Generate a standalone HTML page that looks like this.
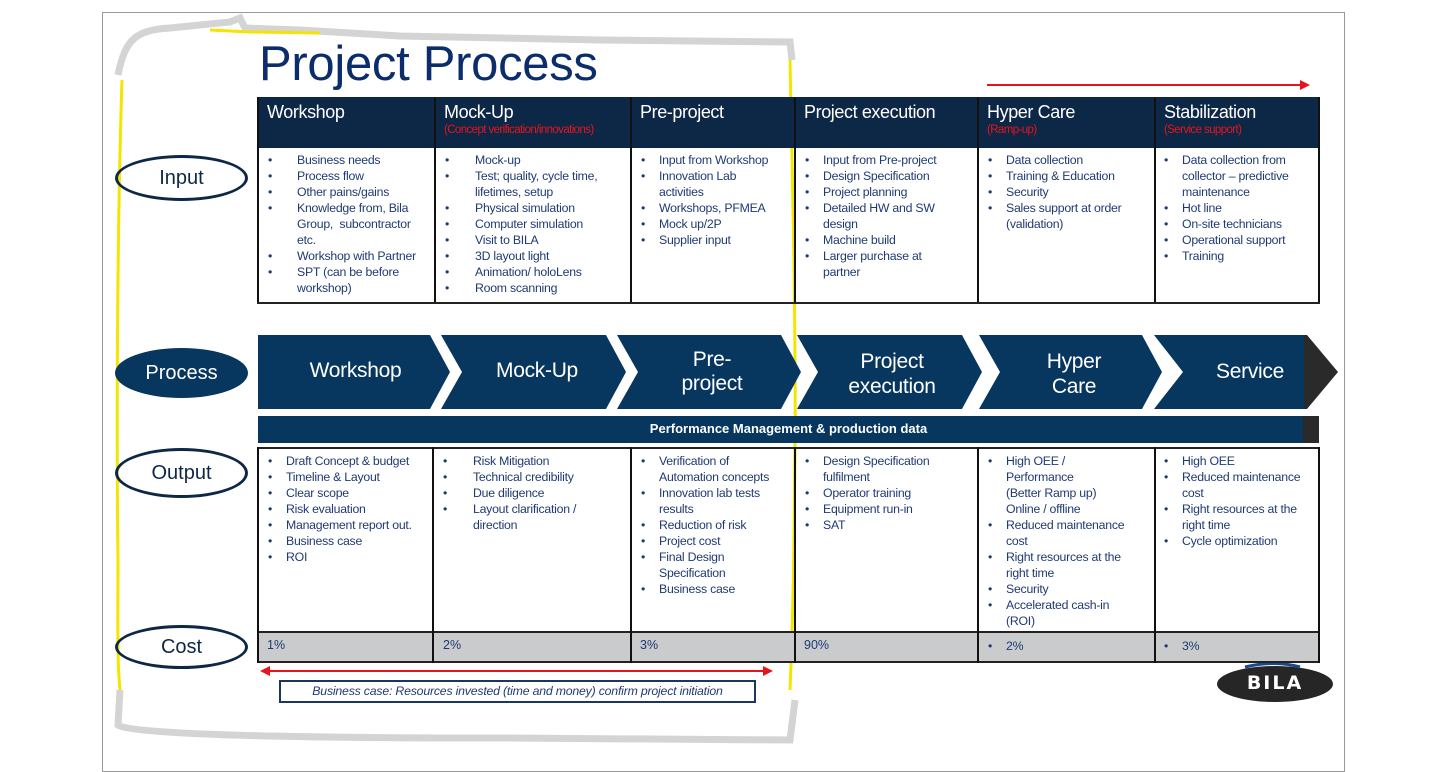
<!DOCTYPE html>
<html><head><meta charset="utf-8"><style>
*{margin:0;padding:0;box-sizing:border-box}
body{width:1440px;height:750px;background:#fff;position:relative;overflow:hidden;font-family:"Liberation Sans",Arial,sans-serif}
.a{position:absolute}
.hd{position:absolute;top:97px;height:51px;background:#0d2747;color:#fff;font-size:18px;padding:5px 0 0 9px;letter-spacing:-0.4px}
.hd small{display:block;color:#e8141b;font-size:11.5px;letter-spacing:-0.6px;margin-top:1px}
ul{position:absolute;list-style:none;color:#1f3a73;font-size:12.3px;line-height:16px;letter-spacing:-0.25px}
ul li{position:relative;padding-left:var(--p,18px)}
ul li:before{content:"•";position:absolute;left:0;color:#1f3a73}
.vl{position:absolute;width:2px;background:#111}
.hl{position:absolute;height:2px;background:#222}
.cost{position:absolute;top:645px;font-size:12.5px;color:#1f3a73}
.ell{position:absolute;border:3px solid #0d2747;border-radius:50%;text-align:center;font-size:20px;color:#0d2747}
.cv{position:absolute;text-align:center;color:#fff;font-size:21px;letter-spacing:-0.3px}
</style></head><body>
<div class="a" style="left:102px;top:12px;width:1243px;height:760px;border:1px solid #999"></div>

<svg class="a" style="left:0;top:0" width="1440" height="750">
<path d="M118 75 C125 40 135 30 170 28 L230 22 L240 18 L245 28 L300 30 L400 36 L600 40 L790 42 L792 60" fill="none" stroke="#d4d4d4" stroke-width="7"/>
<path d="M210 30 L250 32 L320 33" fill="none" stroke="#f7e300" stroke-width="3"/>
<path d="M122 80 C118 200 116 400 118 560 C118 620 117 660 120 690" fill="none" stroke="#f2e600" stroke-width="3"/>
<path d="M120 690 L118 725 C130 735 300 738 500 738 L790 740 L795 700" fill="none" stroke="#d4d4d4" stroke-width="7"/>
<path d="M790 60 C793 200 796 350 795 450 C794 550 793 620 790 690" fill="none" stroke="#f2e600" stroke-width="3"/>
<line x1="987" y1="85" x2="1302" y2="85" stroke="#e8141b" stroke-width="2"/>
<polygon points="1310,85 1300,80 1300,90" fill="#e8141b"/>
<g fill="#07365f">
<polygon points="258,335 430,335 450,372 430,409 258,409"/>
<polygon points="441,335 606,335 626,372 606,409 441,409 462,372"/>
<polygon points="617,335 781,335 801,372 781,409 617,409 638,372"/>
<polygon points="797,335 962,335 982,372 962,409 797,409 818,372"/>
<polygon points="979,335 1142,335 1162,372 1142,409 979,409 1000,372"/>
<polygon points="1154,335 1305,335 1305,409 1154,409 1183,372"/>
</g>
<polygon points="1304,335 1307,335 1338,372 1307,409 1304,409" fill="#2a2a2a"/>
<line x1="268" y1="671" x2="764" y2="671" stroke="#e8141b" stroke-width="2"/>
<polygon points="260,671 270,666 270,676" fill="#e8141b"/>
<polygon points="773,671 763,666 763,676" fill="#e8141b"/>
<ellipse cx="1275" cy="684" rx="58" ry="18" fill="#262626"/>
<path d="M1245 667 Q1275 660 1300 667" stroke="#1a4a8a" stroke-width="3" fill="none"/>
</svg>

<div class="a" style="left:259px;top:36px;font-size:49px;color:#0c2d6b;letter-spacing:-0.3px">Project Process</div>

<div class="hd" style="left:258px;width:177px">Workshop</div>
<div class="hd" style="left:435px;width:196px">Mock-Up<small>(Concept verification/innovations)</small></div>
<div class="hd" style="left:631px;width:164px">Pre-project</div>
<div class="hd" style="left:795px;width:183px">Project execution</div>
<div class="hd" style="left:978px;width:177px">Hyper Care<small>(Ramp-up)</small></div>
<div class="hd" style="left:1155px;width:164px">Stabilization<small>(Service support)</small></div>

<div class="vl" style="left:257px;top:97px;height:207px"></div>
<div class="vl" style="left:434px;top:97px;height:207px"></div>
<div class="vl" style="left:630px;top:97px;height:207px"></div>
<div class="vl" style="left:794px;top:97px;height:207px"></div>
<div class="vl" style="left:977px;top:97px;height:207px"></div>
<div class="vl" style="left:1154px;top:97px;height:207px"></div>
<div class="vl" style="left:1318px;top:97px;height:207px"></div>
<div class="hl" style="left:257px;top:302px;width:1063px"></div>

<ul style="left:268px;top:152px;width:165px;--p:29px">
<li>Business needs</li><li>Process flow</li><li>Other pains/gains</li><li>Knowledge from, Bila<br>Group,&nbsp; subcontractor<br>etc.</li><li>Workshop with Partner</li><li>SPT (can be before<br>workshop)</li></ul>
<ul style="left:445px;top:152px;width:185px;--p:30px">
<li>Mock-up</li><li>Test; quality, cycle time,<br>lifetimes, setup</li><li>Physical simulation</li><li>Computer simulation</li><li>Visit to BILA</li><li>3D layout light</li><li>Animation/ holoLens</li><li>Room scanning</li></ul>
<ul style="left:641px;top:152px;width:153px">
<li>Input from Workshop</li><li>Innovation Lab<br>activities</li><li>Workshops, PFMEA</li><li>Mock up/2P</li><li>Supplier input</li></ul>
<ul style="left:805px;top:152px;width:170px">
<li>Input from Pre-project</li><li>Design Specification</li><li>Project planning</li><li>Detailed HW and SW<br>design</li><li>Machine build</li><li>Larger purchase at<br>partner</li></ul>
<ul style="left:988px;top:152px;width:165px">
<li>Data collection</li><li>Training &amp; Education</li><li>Security</li><li>Sales support at order<br>(validation)</li></ul>
<ul style="left:1164px;top:152px;width:150px">
<li>Data collection from<br>collector – predictive<br>maintenance</li><li>Hot line</li><li>On-site technicians</li><li>Operational support</li><li>Training</li></ul>

<div class="cv" style="left:258px;width:195px;top:359px">Workshop</div>
<div class="cv" style="left:441px;width:192px;top:359px">Mock-Up</div>
<div class="cv" style="left:617px;width:190px;top:348px;line-height:24px">Pre-<br>project</div>
<div class="cv" style="left:797px;width:190px;top:349px;line-height:25px">Project<br>execution</div>
<div class="cv" style="left:979px;width:190px;top:349px;line-height:25px">Hyper<br>Care</div>
<div class="cv" style="left:1170px;width:160px;top:360px">Service</div>

<div class="a" style="left:258px;top:416px;width:1061px;height:27px;background:#07365f"></div>
<div class="a" style="left:1303px;top:416px;width:16px;height:27px;background:#2a2a2a"></div>
<div class="a" style="left:258px;top:421px;width:1061px;text-align:center;color:#fff;font-size:13px;font-weight:bold">Performance Management &amp; production data</div>

<div class="a" style="left:258px;top:632px;width:1061px;height:30px;background:#c9cbcd"></div>
<div class="hl" style="left:257px;top:447px;width:1063px"></div>
<div class="hl" style="left:257px;top:631px;width:1063px"></div>
<div class="hl" style="left:257px;top:661px;width:1063px"></div>
<div class="vl" style="left:257px;top:447px;height:216px"></div>
<div class="vl" style="left:432px;top:447px;height:216px"></div>
<div class="vl" style="left:630px;top:447px;height:216px"></div>
<div class="vl" style="left:794px;top:447px;height:216px"></div>
<div class="vl" style="left:977px;top:447px;height:216px"></div>
<div class="vl" style="left:1154px;top:447px;height:216px"></div>
<div class="vl" style="left:1318px;top:447px;height:216px"></div>

<ul style="left:268px;top:453px;width:162px">
<li>Draft Concept &amp; budget</li><li>Timeline &amp; Layout</li><li>Clear scope</li><li>Risk evaluation</li><li>Management report out.</li><li>Business case</li><li>ROI</li></ul>
<ul style="left:443px;top:453px;width:185px;--p:30px">
<li>Risk Mitigation</li><li>Technical credibility</li><li>Due diligence</li><li>Layout clarification /<br>direction</li></ul>
<ul style="left:641px;top:453px;width:153px">
<li>Verification of<br>Automation concepts</li><li>Innovation lab tests<br>results</li><li>Reduction of risk</li><li>Project cost</li><li>Final Design<br>Specification</li><li>Business case</li></ul>
<ul style="left:805px;top:453px;width:170px">
<li>Design Specification<br>fulfilment</li><li>Operator training</li><li>Equipment run-in</li><li>SAT</li></ul>
<ul style="left:988px;top:453px;width:165px">
<li>High OEE /<br>Performance<br>(Better Ramp up)<br>Online / offline</li><li>Reduced maintenance<br>cost</li><li>Right resources at the<br>right time</li><li>Security</li><li>Accelerated cash-in<br>(ROI)</li></ul>
<ul style="left:1164px;top:453px;width:154px">
<li>High OEE</li><li>Reduced maintenance<br>cost</li><li>Right resources at the<br>right time</li><li>Cycle optimization</li></ul>

<div class="cost" style="left:267px;top:638px">1%</div>
<div class="cost" style="left:443px;top:638px">2%</div>
<div class="cost" style="left:640px;top:638px">3%</div>
<div class="cost" style="left:804px;top:638px">90%</div>
<ul style="left:988px;top:638px"><li>2%</li></ul>
<ul style="left:1164px;top:638px"><li>3%</li></ul>

<div class="a" style="left:279px;top:680px;width:477px;height:23px;border:2px solid #1b3660;font-style:italic;font-size:12.3px;color:#1f3a73;text-align:center;line-height:19px;letter-spacing:-0.2px">Business case: Resources invested (time and money) confirm project initiation</div>

<div class="ell" style="left:115px;top:155px;width:133px;height:46px;line-height:40px">Input</div>
<div class="a" style="left:115px;top:348px;width:133px;height:50px;border-radius:50%;background:#07365f;color:#fff;font-size:20px;text-align:center;line-height:50px">Process</div>
<div class="ell" style="left:115px;top:448px;width:133px;height:50px;line-height:44px">Output</div>
<div class="ell" style="left:115px;top:625px;width:133px;height:44px;line-height:38px">Cost</div>

<div class="a" style="left:1217px;top:672px;width:116px;text-align:center;color:#fff;font-weight:bold;font-size:19px;letter-spacing:2px;font-family:'DejaVu Sans',sans-serif">BILA</div>
</body></html>
